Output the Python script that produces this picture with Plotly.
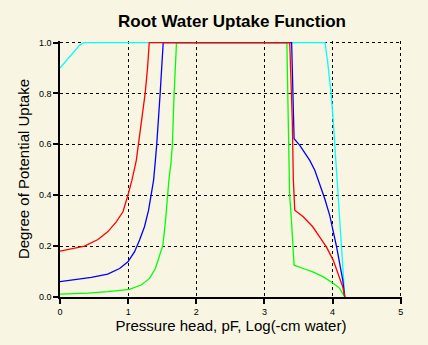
import plotly.graph_objects as go

# Cyan series
cyan_pf = [0, 0.117, 0.215, 0.289, 0.352, 3.89, 3.93, 3.98, 4.01, 4.06, 4.105, 4.15, 4.18]
cyan_val = [0.90, 0.937, 0.97, 0.99, 1.0, 1.0, 0.92, 0.80, 0.694, 0.50, 0.30, 0.145, 0.0]

# Green series
green_pf = [0, 0.415, 0.70, 1.02, 1.19, 1.315, 1.40, 1.46, 1.51, 1.545, 1.573, 1.598, 1.63,
            1.65, 1.675, 1.71, 3.33, 3.35, 3.37, 3.40, 3.42, 3.436, 3.57, 3.71, 3.86, 4.01, 4.105, 4.18]
green_val = [0.011, 0.015, 0.021, 0.030, 0.047, 0.073, 0.112, 0.158, 0.204, 0.289, 0.38, 0.459, 0.53,
             0.60, 0.80, 1.0, 1.0, 0.694, 0.407, 0.29, 0.171, 0.125, 0.112, 0.099, 0.08, 0.054, 0.034, 0.0]

# Blue series
blue_pf = [0, 0.46, 0.70, 0.875, 0.997, 1.095, 1.168, 1.24, 1.30, 1.34, 1.374, 1.40, 1.42, 1.47, 1.515,
           3.40, 3.43, 3.436, 3.52, 3.59, 3.666, 3.74, 3.81, 3.885, 3.96, 4.01, 4.06, 4.105, 4.15, 4.18]
blue_val = [0.06, 0.077, 0.09, 0.112, 0.138, 0.178, 0.224, 0.276, 0.341, 0.40, 0.459, 0.537, 0.60, 0.80, 1.0,
            1.0, 0.69, 0.622, 0.596, 0.57, 0.537, 0.498, 0.446, 0.387, 0.32, 0.263, 0.197, 0.132, 0.067, 0.0]

# Red series
red_pf = [0, 0.36, 0.557, 0.70, 0.826, 0.924, 0.997, 1.036, 1.056, 1.12, 1.15, 1.20, 1.25, 1.285, 1.31,
          3.372, 3.41, 3.425, 3.446, 3.57, 3.71, 3.81, 3.91, 4.01, 4.08, 4.15, 4.18]
red_val = [0.18, 0.20, 0.226, 0.256, 0.295, 0.335, 0.40, 0.439, 0.459, 0.537, 0.60, 0.70, 0.80, 0.90, 1.0,
           1.0, 0.69, 0.46, 0.341, 0.315, 0.276, 0.236, 0.197, 0.145, 0.093, 0.04, 0.0]

x_ticks = [0, 1, 2, 3, 4, 5]
x_tick_labels = ["0", "1", "2", "3", "4", "5"]
y_ticks = [0, 0.2, 0.4, 0.6, 0.8, 1.0]
y_tick_labels = ["0.0", "0.2", "0.4", "0.6", "0.8", "1.0"]

bg = "#F8F6E2"

fig = go.Figure()
for xs, ys, col in [(cyan_pf, cyan_val, "#00FFFF"), (green_pf, green_val, "#00FF00"),
                    (blue_pf, blue_val, "#0000FF"), (red_pf, red_val, "#FF0000")]:
    fig.add_trace(go.Scatter(x=xs, y=ys, mode="lines", line=dict(color=col, width=1.3),
                             cliponaxis=False, showlegend=False, hoverinfo="skip"))

axis_common = dict(
    showline=True, linecolor="black", linewidth=1.5,
    showgrid=True, gridcolor="black", gridwidth=1, griddash="3px,3px",
    ticks="outside", ticklen=5, tickcolor="black", tickwidth=1.5,
    zeroline=False,
    tickfont=dict(family="Arial", size=9, color="black"),
)

fig.update_xaxes(range=[0, 5.02], tickvals=x_ticks, ticktext=x_tick_labels,
                 title=dict(text="Pressure head, pF, Log(-cm water)",
                            font=dict(family="Arial", size=15, color="black"), standoff=5),
                 **axis_common)
fig.update_yaxes(range=[0, 1.006], tickvals=y_ticks, ticktext=y_tick_labels,
                 title=dict(text="Degree of Potential Uptake",
                            font=dict(family="Arial", size=15, color="black"), standoff=6),
                 **axis_common)

fig.update_layout(
    width=428, height=345,
    margin=dict(l=60, r=26, t=41, b=48),
    paper_bgcolor=bg, plot_bgcolor=bg,
    title=dict(text="<b>Root Water Uptake Function</b>", x=0.542, xanchor="center",
               y=0.94, yanchor="middle",
               font=dict(family="Arial", size=17, color="black")),
)

fig.write_html("out.html")
